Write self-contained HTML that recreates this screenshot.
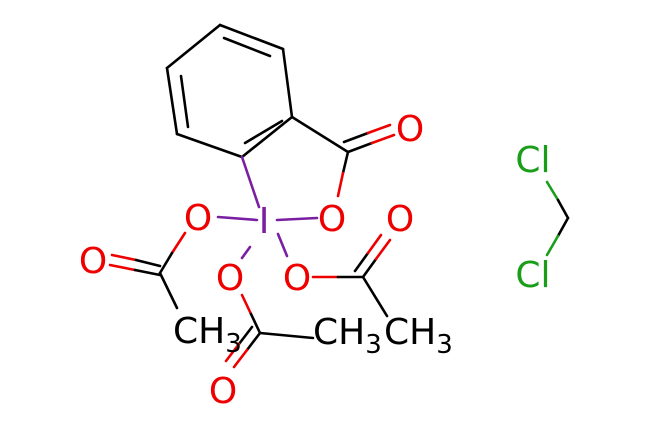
<!DOCTYPE html>
<html><head><style>
html,body{margin:0;padding:0;background:#fff;}
svg text{font-family:"DejaVu Sans","Liberation Sans",sans-serif;font-size:36px;}
</style></head><body>
<svg width="650" height="433" viewBox="0 0 650 433" xmlns="http://www.w3.org/2000/svg">
<g stroke-width="2.6" stroke-linecap="round" fill="none">
<g stroke="#000">
<line x1="220" y1="25" x2="283" y2="49"/>
<line x1="283" y1="49" x2="292" y2="117"/>
<line x1="292" y1="117" x2="242" y2="157"/>
<line x1="242" y1="157" x2="177" y2="134"/>
<line x1="177" y1="134" x2="167" y2="68"/>
<line x1="167" y1="68" x2="220" y2="25"/>
<line x1="181" y1="76" x2="188" y2="127"/>
<line x1="224" y1="38" x2="270" y2="56"/>
<line x1="245" y1="143" x2="282" y2="121"/>
<line x1="292" y1="117" x2="348" y2="152"/>
</g>
<line x1="348" y1="152" x2="372" y2="143" stroke="#000"/>
<line x1="372" y1="143" x2="394" y2="135" stroke="#e00"/>
<line x1="344" y1="142" x2="368" y2="133" stroke="#000"/>
<line x1="368" y1="133" x2="390" y2="125" stroke="#e00"/>
<line x1="348" y1="152" x2="343" y2="173" stroke="#000"/>
<line x1="343" y1="173" x2="338" y2="196" stroke="#e00"/>
<g stroke="#7a1fa2">
<line x1="242" y1="157" x2="259" y2="207"/>
<line x1="277" y1="220" x2="317" y2="218"/>
<line x1="218" y1="217" x2="257" y2="220"/>
<line x1="250" y1="247" x2="242" y2="258"/>
<line x1="278" y1="234" x2="287" y2="256"/>
</g>
<line x1="185" y1="233" x2="172" y2="253" stroke="#e00"/>
<line x1="172" y1="253" x2="160" y2="273" stroke="#000"/>
<line x1="112" y1="255" x2="136" y2="260" stroke="#e00"/>
<line x1="136" y1="260" x2="160" y2="266" stroke="#000"/>
<line x1="110" y1="265" x2="135" y2="270" stroke="#e00"/>
<line x1="135" y1="270" x2="160" y2="275" stroke="#000"/>
<line x1="160" y1="273" x2="177" y2="308" stroke="#000"/>
<line x1="242" y1="295" x2="251" y2="314" stroke="#e00"/>
<line x1="251" y1="314" x2="260" y2="333" stroke="#000"/>
<line x1="260" y1="333" x2="313" y2="338" stroke="#000"/>
<line x1="260" y1="333" x2="247" y2="350" stroke="#000"/>
<line x1="247" y1="350" x2="234" y2="367" stroke="#e00"/>
<line x1="252" y1="327" x2="239" y2="344" stroke="#000"/>
<line x1="239" y1="344" x2="226" y2="361" stroke="#e00"/>
<line x1="313" y1="277" x2="338" y2="277" stroke="#e00"/>
<line x1="338" y1="277" x2="363" y2="277" stroke="#000"/>
<line x1="363" y1="277" x2="376" y2="259" stroke="#000"/>
<line x1="376" y1="259" x2="390" y2="240" stroke="#e00"/>
<line x1="355" y1="271" x2="368" y2="253" stroke="#000"/>
<line x1="368" y1="253" x2="381" y2="235" stroke="#e00"/>
<line x1="363" y1="277" x2="387" y2="316" stroke="#000"/>
<line x1="547" y1="182" x2="558" y2="200" stroke="#1a9e1a"/>
<line x1="558" y1="200" x2="568" y2="218" stroke="#000"/>
<line x1="568" y1="218" x2="558" y2="236" stroke="#000"/>
<line x1="558" y1="236" x2="547" y2="255" stroke="#1a9e1a"/>
</g>
<g text-anchor="middle">
<text x="410" y="141" fill="#e00">O</text>
<text x="332" y="231" fill="#e00">O</text>
<text x="264" y="233" fill="#7a1fa2">I</text>
<text x="198" y="230" fill="#e00">O</text>
<text x="93" y="273" fill="#e00">O</text>
<text x="230" y="290" fill="#e00">O</text>
<text x="297" y="290" fill="#e00">O</text>
<text x="400" y="231" fill="#e00">O</text>
<text x="223" y="403" fill="#e00">O</text>
<text x="533" y="172" fill="#1a9e1a">Cl</text>
<text x="533" y="287" fill="#1a9e1a">Cl</text>
</g>
<text x="173" y="343" fill="#000">CH<tspan font-size="26" dy="9">3</tspan></text>
<text x="313" y="344" fill="#000">CH<tspan font-size="26" dy="9">3</tspan></text>
<text x="384" y="344" fill="#000">CH<tspan font-size="26" dy="9">3</tspan></text>
</svg>
</body></html>
